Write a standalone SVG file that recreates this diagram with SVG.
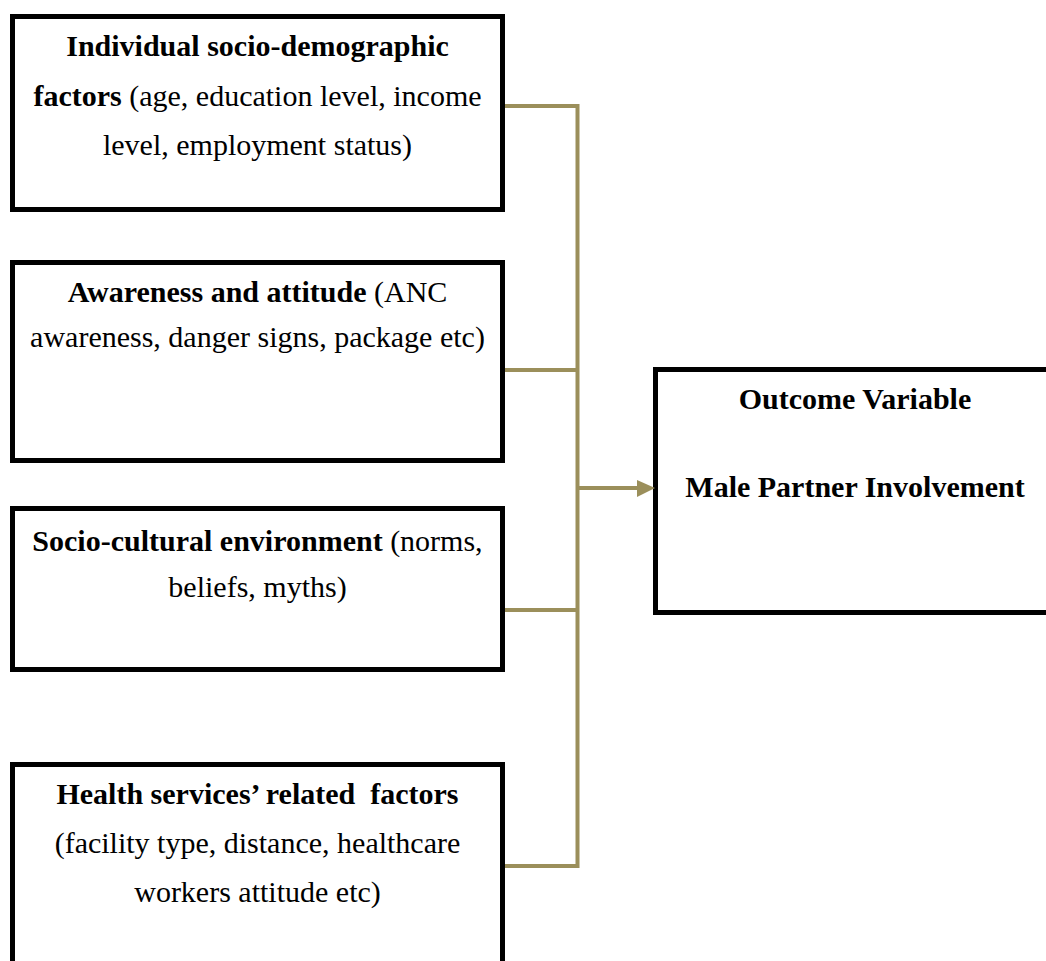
<svg xmlns="http://www.w3.org/2000/svg" width="1046" height="961" viewBox="0 0 1046 961">
<style>
.box{fill:#fff;stroke:#000;stroke-width:5}
.t{font-family:"Liberation Serif","Times New Roman",serif;font-size:30px;fill:#000;text-anchor:middle;white-space:pre}
.b{font-weight:bold}
.c{stroke:#9B8F5B;stroke-width:4;fill:none}
</style>
<rect width="1046" height="961" fill="#fff"/>
<g id="node-individual">
<rect class="box" x="12.5" y="16.5" width="490" height="193"/>
<text class="t" x="257.5" y="56"><tspan class="b">Individual socio-demographic</tspan></text>
<text class="t" x="257.5" y="106"><tspan class="b">factors</tspan> (age, education level, income</text>
<text class="t" x="257.5" y="155">level, employment status)</text>
</g>
<g id="node-awareness">
<rect class="box" x="12.5" y="262.5" width="490" height="198"/>
<text class="t" x="257.5" y="302"><tspan class="b">Awareness and attitude</tspan> (ANC</text>
<text class="t" x="257.5" y="347">awareness, danger signs, package etc)</text>
</g>
<g id="node-sociocultural">
<rect class="box" x="12.5" y="508.5" width="490" height="161"/>
<text class="t" x="257.5" y="551"><tspan class="b">Socio-cultural environment</tspan> (norms,</text>
<text class="t" x="257.5" y="597">beliefs, myths)</text>
</g>
<g id="node-health">
<rect class="box" x="12.5" y="764.5" width="490" height="220"/>
<text class="t b" x="257.5" y="804">Health services’ related  factors</text>
<text class="t" x="257.5" y="853">(facility type, distance, healthcare</text>
<text class="t" x="257.5" y="902">workers attitude etc)</text>
</g>
<g id="node-outcome">
<rect class="box" x="655.5" y="369.5" width="420" height="243"/>
<text class="t b" x="855" y="409">Outcome Variable</text>
<text class="t b" x="855" y="497">Male Partner Involvement</text>
</g>
<g id="connectors">
<path class="c" d="M505 106H579M505 370H579M505 610H579M505 866H579M577.5 104V868"/>
<path class="c" d="M577.5 488H640"/>
<polygon points="637,480 655,488 637,497" fill="#9B8F5B"/>
</g>
</svg>
